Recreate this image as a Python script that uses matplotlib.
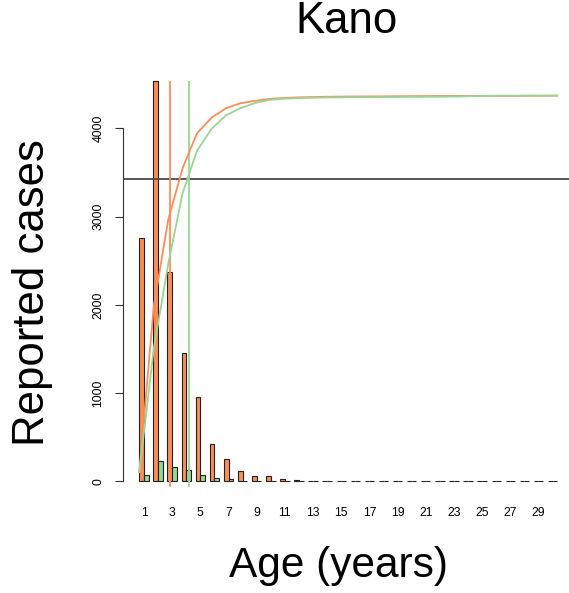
import matplotlib
matplotlib.use("Agg")
import matplotlib.pyplot as plt
import numpy as np

plt.rcParams["font.family"] = ["Liberation Sans", "DejaVu Sans"]

# Reported cases by age (years), two case series
ages = list(range(1, 31))
tick_ages = ages[::2]
orange_cases = [2760, 4540, 2375, 1450, 957, 420, 253, 115, 57, 57,
                26, 17, 11, 5, 4, 4, 3, 3, 3, 3,
                3, 3, 3, 3, 4, 3, 3, 3, 3, 3]
green_cases = [71, 230, 168, 127, 78, 38, 23, 10, 5, 3,
               2, 1, 1, 1, 1, 1, 1, 1, 1, 1,
               1, 1, 1, 1, 1, 1, 1, 1, 1, 1]

# Cumulative curves (scaled) plotted on the age scale
orange_cum = [105, 1980, 2960, 3547, 3943, 4118, 4227, 4283, 4310, 4332,
              4343, 4350, 4354, 4357, 4359, 4360, 4361, 4362, 4363, 4364,
              4365, 4366, 4366, 4367, 4367, 4368, 4368, 4369, 4369, 4370]
green_cum = [109, 1500, 2460, 3263, 3745, 3992, 4145, 4227, 4285, 4322,
             4335, 4342, 4346, 4349, 4351, 4352, 4353, 4354, 4355, 4356,
             4357, 4358, 4360, 4364, 4367, 4368, 4368, 4369, 4369, 4370]
threshold = 3430
orange_mark = 3.13
green_mark = 4.46

ORANGE = "#FC8D59"
GREEN = "#99D594"

W, H = 569, 593
fig = plt.figure(figsize=(W / 100, H / 100), dpi=100)
left, right, bottom, top = 122.6, 574.0, 486.7, 80.7
ax = fig.add_axes([left / W, 1 - bottom / H, (right - left) / W, (bottom - top) / H])

x = np.array(ages)
ax.bar(3 * x - 1.5, orange_cases, width=1, color=ORANGE, edgecolor="#222222",
       linewidth=0.8, clip_on=False, zorder=2)
ax.bar(3 * x - 0.5, green_cases, width=1, color=GREEN, edgecolor="#222222",
       linewidth=0.8, clip_on=False, zorder=2)
ax.set_xlim(-2.56, 93.56)
ax.set_ylim(-58.9, 4539)

for s in ["top", "right", "bottom"]:
    ax.spines[s].set_visible(False)
ax.spines["left"].set_bounds(0, 4000)
ax.spines["left"].set_linewidth(0.8)
ax.spines["left"].set_color("#333333")
ax.set_yticks([0, 1000, 2000, 3000, 4000])
ax.tick_params(axis="y", direction="out", length=6, width=0.8, color="#333333",
               labelsize=8.7, pad=7, labelrotation=90)
for lab in ax.get_yticklabels():
    lab.set_va("center")
ax.set_xticks(3 * np.array(tick_ages) - 1)
ax.set_xticklabels([str(a) for a in tick_ages])
ax.tick_params(axis="x", length=0, pad=14.4, labelsize=8.7)

# Overlay on an age scale for the cumulative curves and reference lines
ax2 = ax.twiny()
ax2.set_xlim(-0.16, 31.16)
for s in ax2.spines.values():
    s.set_visible(False)
ax2.set_xticks([])
ax2.axhline(threshold, color="#4a4a4a", lw=1.3, zorder=3)
ax2.axvline(orange_mark, color=ORANGE, lw=1.3, zorder=3)
ax2.axvline(green_mark, color=GREEN, lw=1.3, zorder=3)
ax2.plot(ages, orange_cum, color=ORANGE, lw=1.3, zorder=4)
ax2.plot(ages, green_cum, color=GREEN, lw=1.3, zorder=5)

fig.text(346.2 / W, 1 - 32.7 / H, "Kano", ha="center", va="baseline", fontsize=31.5)
fig.text(338.8 / W, 1 - 576.7 / H, "Age (years)", ha="center", va="baseline", fontsize=30.5)
fig.text(32.5 / W, 1 - 292.5 / H, "Reported cases", rotation=90, ha="center",
         va="center", fontsize=31.5)

fig.savefig("out.png", dpi=100)
